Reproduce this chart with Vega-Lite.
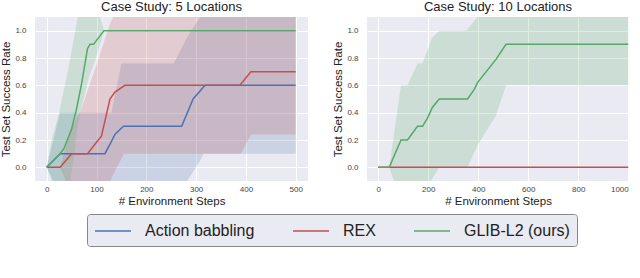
{
  "$schema": "https://vega.github.io/schema/vega-lite/v6.json",
  "padding": {"left": 0, "top": 1, "right": 0, "bottom": 0},
  "background": "white",
  "spacing": 24,
  "datasets": {
    "mean": [
      {"panel": "5", "method": "Action babbling", "x": 0, "y": 0},
      {"panel": "5", "method": "Action babbling", "x": 27, "y": 0.1},
      {"panel": "5", "method": "Action babbling", "x": 117, "y": 0.1},
      {"panel": "5", "method": "Action babbling", "x": 130, "y": 0.19},
      {"panel": "5", "method": "Action babbling", "x": 137, "y": 0.24},
      {"panel": "5", "method": "Action babbling", "x": 154, "y": 0.3},
      {"panel": "5", "method": "Action babbling", "x": 271, "y": 0.3},
      {"panel": "5", "method": "Action babbling", "x": 294, "y": 0.5},
      {"panel": "5", "method": "Action babbling", "x": 318, "y": 0.6},
      {"panel": "5", "method": "Action babbling", "x": 500, "y": 0.6},
      {"panel": "5", "method": "REX", "x": 0, "y": 0},
      {"panel": "5", "method": "REX", "x": 27, "y": 0},
      {"panel": "5", "method": "REX", "x": 50, "y": 0.1},
      {"panel": "5", "method": "REX", "x": 82, "y": 0.1},
      {"panel": "5", "method": "REX", "x": 110, "y": 0.23},
      {"panel": "5", "method": "REX", "x": 127, "y": 0.5},
      {"panel": "5", "method": "REX", "x": 137, "y": 0.55},
      {"panel": "5", "method": "REX", "x": 157, "y": 0.6},
      {"panel": "5", "method": "REX", "x": 388, "y": 0.6},
      {"panel": "5", "method": "REX", "x": 410, "y": 0.7},
      {"panel": "5", "method": "REX", "x": 500, "y": 0.7},
      {"panel": "5", "method": "GLIB-L2 (ours)", "x": 0, "y": 0},
      {"panel": "5", "method": "GLIB-L2 (ours)", "x": 27, "y": 0.1},
      {"panel": "5", "method": "GLIB-L2 (ours)", "x": 35, "y": 0.14},
      {"panel": "5", "method": "GLIB-L2 (ours)", "x": 50, "y": 0.28},
      {"panel": "5", "method": "GLIB-L2 (ours)", "x": 60, "y": 0.43},
      {"panel": "5", "method": "GLIB-L2 (ours)", "x": 70, "y": 0.61},
      {"panel": "5", "method": "GLIB-L2 (ours)", "x": 82, "y": 0.87},
      {"panel": "5", "method": "GLIB-L2 (ours)", "x": 87, "y": 0.9},
      {"panel": "5", "method": "GLIB-L2 (ours)", "x": 94, "y": 0.9},
      {"panel": "5", "method": "GLIB-L2 (ours)", "x": 115, "y": 1.0},
      {"panel": "5", "method": "GLIB-L2 (ours)", "x": 500, "y": 1.0},
      {"panel": "10", "method": "REX", "x": 0, "y": 0},
      {"panel": "10", "method": "REX", "x": 1000, "y": 0},
      {"panel": "10", "method": "GLIB-L2 (ours)", "x": 0, "y": 0},
      {"panel": "10", "method": "GLIB-L2 (ours)", "x": 44, "y": 0},
      {"panel": "10", "method": "GLIB-L2 (ours)", "x": 91, "y": 0.2},
      {"panel": "10", "method": "GLIB-L2 (ours)", "x": 117, "y": 0.2},
      {"panel": "10", "method": "GLIB-L2 (ours)", "x": 157, "y": 0.3},
      {"panel": "10", "method": "GLIB-L2 (ours)", "x": 177, "y": 0.3},
      {"panel": "10", "method": "GLIB-L2 (ours)", "x": 197, "y": 0.36},
      {"panel": "10", "method": "GLIB-L2 (ours)", "x": 217, "y": 0.44},
      {"panel": "10", "method": "GLIB-L2 (ours)", "x": 244, "y": 0.5},
      {"panel": "10", "method": "GLIB-L2 (ours)", "x": 357, "y": 0.5},
      {"panel": "10", "method": "GLIB-L2 (ours)", "x": 384, "y": 0.57},
      {"panel": "10", "method": "GLIB-L2 (ours)", "x": 397, "y": 0.62},
      {"panel": "10", "method": "GLIB-L2 (ours)", "x": 471, "y": 0.79},
      {"panel": "10", "method": "GLIB-L2 (ours)", "x": 511, "y": 0.9},
      {"panel": "10", "method": "GLIB-L2 (ours)", "x": 1000, "y": 0.9}
    ],
    "band": [
      {"panel": "5", "method": "Action babbling", "x": 0, "lo": 0, "hi": 0},
      {"panel": "5", "method": "Action babbling", "x": 27, "lo": -0.2, "hi": 0.4},
      {"panel": "5", "method": "Action babbling", "x": 130, "lo": -0.25, "hi": 0.4},
      {"panel": "5", "method": "Action babbling", "x": 150, "lo": -0.2, "hi": 0.76},
      {"panel": "5", "method": "Action babbling", "x": 255, "lo": -0.15, "hi": 0.76},
      {"panel": "5", "method": "Action babbling", "x": 282, "lo": -0.1, "hi": 0.95},
      {"panel": "5", "method": "Action babbling", "x": 308, "lo": 0.05, "hi": 1.1},
      {"panel": "5", "method": "Action babbling", "x": 315, "lo": 0.1, "hi": 1.2},
      {"panel": "5", "method": "Action babbling", "x": 500, "lo": 0.1, "hi": 1.2},
      {"panel": "5", "method": "REX", "x": 0, "lo": 0, "hi": 0},
      {"panel": "5", "method": "REX", "x": 27, "lo": 0, "hi": 0},
      {"panel": "5", "method": "REX", "x": 50, "lo": -0.2, "hi": 0.3},
      {"panel": "5", "method": "REX", "x": 67, "lo": -0.25, "hi": 0.4},
      {"panel": "5", "method": "REX", "x": 100, "lo": -0.2, "hi": 0.75},
      {"panel": "5", "method": "REX", "x": 127, "lo": -0.1, "hi": 1.05},
      {"panel": "5", "method": "REX", "x": 134, "lo": -0.05, "hi": 1.1},
      {"panel": "5", "method": "REX", "x": 155, "lo": 0.1, "hi": 1.3},
      {"panel": "5", "method": "REX", "x": 390, "lo": 0.1, "hi": 1.3},
      {"panel": "5", "method": "REX", "x": 410, "lo": 0.24, "hi": 1.3},
      {"panel": "5", "method": "REX", "x": 500, "lo": 0.24, "hi": 1.3},
      {"panel": "5", "method": "GLIB-L2 (ours)", "x": 0, "lo": 0, "hi": 0},
      {"panel": "5", "method": "GLIB-L2 (ours)", "x": 10, "lo": -0.1, "hi": 0.2},
      {"panel": "5", "method": "GLIB-L2 (ours)", "x": 25, "lo": -0.2, "hi": 0.4},
      {"panel": "5", "method": "GLIB-L2 (ours)", "x": 45, "lo": -0.15, "hi": 0.75},
      {"panel": "5", "method": "GLIB-L2 (ours)", "x": 55, "lo": 0.08, "hi": 0.95},
      {"panel": "5", "method": "GLIB-L2 (ours)", "x": 60, "lo": 0.25, "hi": 1.05},
      {"panel": "5", "method": "GLIB-L2 (ours)", "x": 67, "lo": 0.4, "hi": 1.2},
      {"panel": "5", "method": "GLIB-L2 (ours)", "x": 85, "lo": 0.66, "hi": 1.2},
      {"panel": "5", "method": "GLIB-L2 (ours)", "x": 100, "lo": 0.81, "hi": 1.2},
      {"panel": "5", "method": "GLIB-L2 (ours)", "x": 107, "lo": 0.9, "hi": 1.1},
      {"panel": "5", "method": "GLIB-L2 (ours)", "x": 115, "lo": 1.0, "hi": 1.0},
      {"panel": "5", "method": "GLIB-L2 (ours)", "x": 500, "lo": 1.0, "hi": 1.0},
      {"panel": "10", "method": "GLIB-L2 (ours)", "x": 0, "lo": 0, "hi": 0},
      {"panel": "10", "method": "GLIB-L2 (ours)", "x": 44, "lo": 0, "hi": 0},
      {"panel": "10", "method": "GLIB-L2 (ours)", "x": 91, "lo": -0.25, "hi": 0.6},
      {"panel": "10", "method": "GLIB-L2 (ours)", "x": 117, "lo": -0.3, "hi": 0.6},
      {"panel": "10", "method": "GLIB-L2 (ours)", "x": 157, "lo": -0.28, "hi": 0.76},
      {"panel": "10", "method": "GLIB-L2 (ours)", "x": 177, "lo": -0.2, "hi": 0.76},
      {"panel": "10", "method": "GLIB-L2 (ours)", "x": 211, "lo": -0.1, "hi": 0.93},
      {"panel": "10", "method": "GLIB-L2 (ours)", "x": 217, "lo": -0.08, "hi": 0.95},
      {"panel": "10", "method": "GLIB-L2 (ours)", "x": 244, "lo": 0.0, "hi": 1.0},
      {"panel": "10", "method": "GLIB-L2 (ours)", "x": 351, "lo": 0.0, "hi": 1.0},
      {"panel": "10", "method": "GLIB-L2 (ours)", "x": 357, "lo": 0.0, "hi": 1.01},
      {"panel": "10", "method": "GLIB-L2 (ours)", "x": 397, "lo": 0.16, "hi": 1.1},
      {"panel": "10", "method": "GLIB-L2 (ours)", "x": 430, "lo": 0.26, "hi": 1.2},
      {"panel": "10", "method": "GLIB-L2 (ours)", "x": 471, "lo": 0.38, "hi": 1.2},
      {"panel": "10", "method": "GLIB-L2 (ours)", "x": 511, "lo": 0.6, "hi": 1.2},
      {"panel": "10", "method": "GLIB-L2 (ours)", "x": 1000, "lo": 0.6, "hi": 1.2}
    ]
  },
  "config": {
    "font": "Liberation Sans",
    "view": {"fill": "#EAEAF2", "stroke": null},
    "axis": {
      "domain": false, "ticks": false, "grid": true, "gridColor": "#ffffff", "gridWidth": 1,
      "labelFontSize": 8, "labelColor": "#444444", "labelOverlap": false,
      "titleFontSize": 11.5, "titleFontWeight": "normal", "titleColor": "#222222"
    },
    "axisX": {"labelPadding": 4, "titlePadding": 2},
    "axisY": {"labelPadding": 9, "titlePadding": 3},
    "legend": {
      "orient": "none", "legendX": 52, "legendY": 197, "direction": "horizontal", "title": null,
      "symbolType": "M-2,0L2,0", "symbolSize": 324, "symbolOffset": 9, "symbolStrokeWidth": 1.5, "symbolOpacity": 1,
      "labelFontSize": 16, "labelColor": "#222222", "labelOffset": 22, "columnPadding": 35,
      "padding": 7, "fillColor": "#EAEAF2", "strokeColor": "#888888", "cornerRadius": 3
    },
    "title": {"fontSize": 13, "fontWeight": "normal", "color": "#222222", "offset": 3}
  },
  "hconcat": [
    {
      "title": "Case Study: 5 Locations",
      "width": 273, "height": 164,
      "layer": [
        {
          "data": {"name": "band"},
          "transform": [{"filter": "datum.panel === '5'"}],
          "mark": {"type": "area", "opacity": 0.2, "clip": true},
          "encoding": {
            "x": {"field": "x", "type": "quantitative", "scale": {"domain": [-23.5, 524.7], "nice": false, "zero": false}, "axis": {"values": [0, 100, 200, 300, 400, 500], "format": "d", "labelOverlap": false, "title": "# Environment Steps"}},
            "y": {"field": "lo", "type": "quantitative", "scale": {"domain": [-0.1, 1.1], "nice": false, "zero": false}, "axis": {"values": [0, 0.2, 0.4, 0.6, 0.8, 1.0], "format": ".1f", "labelOverlap": false, "title": "Test Set Success Rate"}},
            "y2": {"field": "hi"},
            "color": {"field": "method", "type": "nominal", "scale": {"domain": ["Action babbling", "REX", "GLIB-L2 (ours)"], "range": ["#4C72B0", "#C44E52", "#55A868"]}}
          }
        },
        {
          "data": {"name": "mean"},
          "transform": [{"filter": "datum.panel === '5'"}],
          "mark": {"type": "line", "strokeWidth": 1.5, "clip": true},
          "encoding": {
            "x": {"field": "x", "type": "quantitative", "axis": {"values": [0, 100, 200, 300, 400, 500], "format": "d", "labelOverlap": false, "title": "# Environment Steps"}},
            "y": {"field": "y", "type": "quantitative", "axis": {"values": [0, 0.2, 0.4, 0.6, 0.8, 1.0], "format": ".1f", "labelOverlap": false, "title": "Test Set Success Rate"}},
            "color": {"field": "method", "type": "nominal"}
          }
        }
      ]
    },
    {
      "title": "Case Study: 10 Locations",
      "width": 262, "height": 164,
      "layer": [
        {
          "data": {"name": "band"},
          "transform": [{"filter": "datum.panel === '10'"}],
          "mark": {"type": "area", "opacity": 0.2, "clip": true},
          "encoding": {
            "x": {"field": "x", "type": "quantitative", "scale": {"domain": [-45, 1003], "nice": false, "zero": false}, "axis": {"values": [0, 200, 400, 600, 800, 1000], "format": "d", "labelOverlap": false, "title": "# Environment Steps"}},
            "y": {"field": "lo", "type": "quantitative", "scale": {"domain": [-0.1, 1.1], "nice": false, "zero": false}, "axis": {"values": [0, 0.2, 0.4, 0.6, 0.8, 1.0], "format": ".1f", "labelOverlap": false, "title": "Test Set Success Rate"}},
            "y2": {"field": "hi"},
            "color": {"field": "method", "type": "nominal"}
          }
        },
        {
          "data": {"name": "mean"},
          "transform": [{"filter": "datum.panel === '10'"}],
          "mark": {"type": "line", "strokeWidth": 1.5, "clip": true},
          "encoding": {
            "x": {"field": "x", "type": "quantitative", "axis": {"values": [0, 200, 400, 600, 800, 1000], "format": "d", "labelOverlap": false, "title": "# Environment Steps"}},
            "y": {"field": "y", "type": "quantitative", "axis": {"values": [0, 0.2, 0.4, 0.6, 0.8, 1.0], "format": ".1f", "labelOverlap": false, "title": "Test Set Success Rate"}},
            "color": {"field": "method", "type": "nominal"}
          }
        }
      ]
    }
  ]
}
